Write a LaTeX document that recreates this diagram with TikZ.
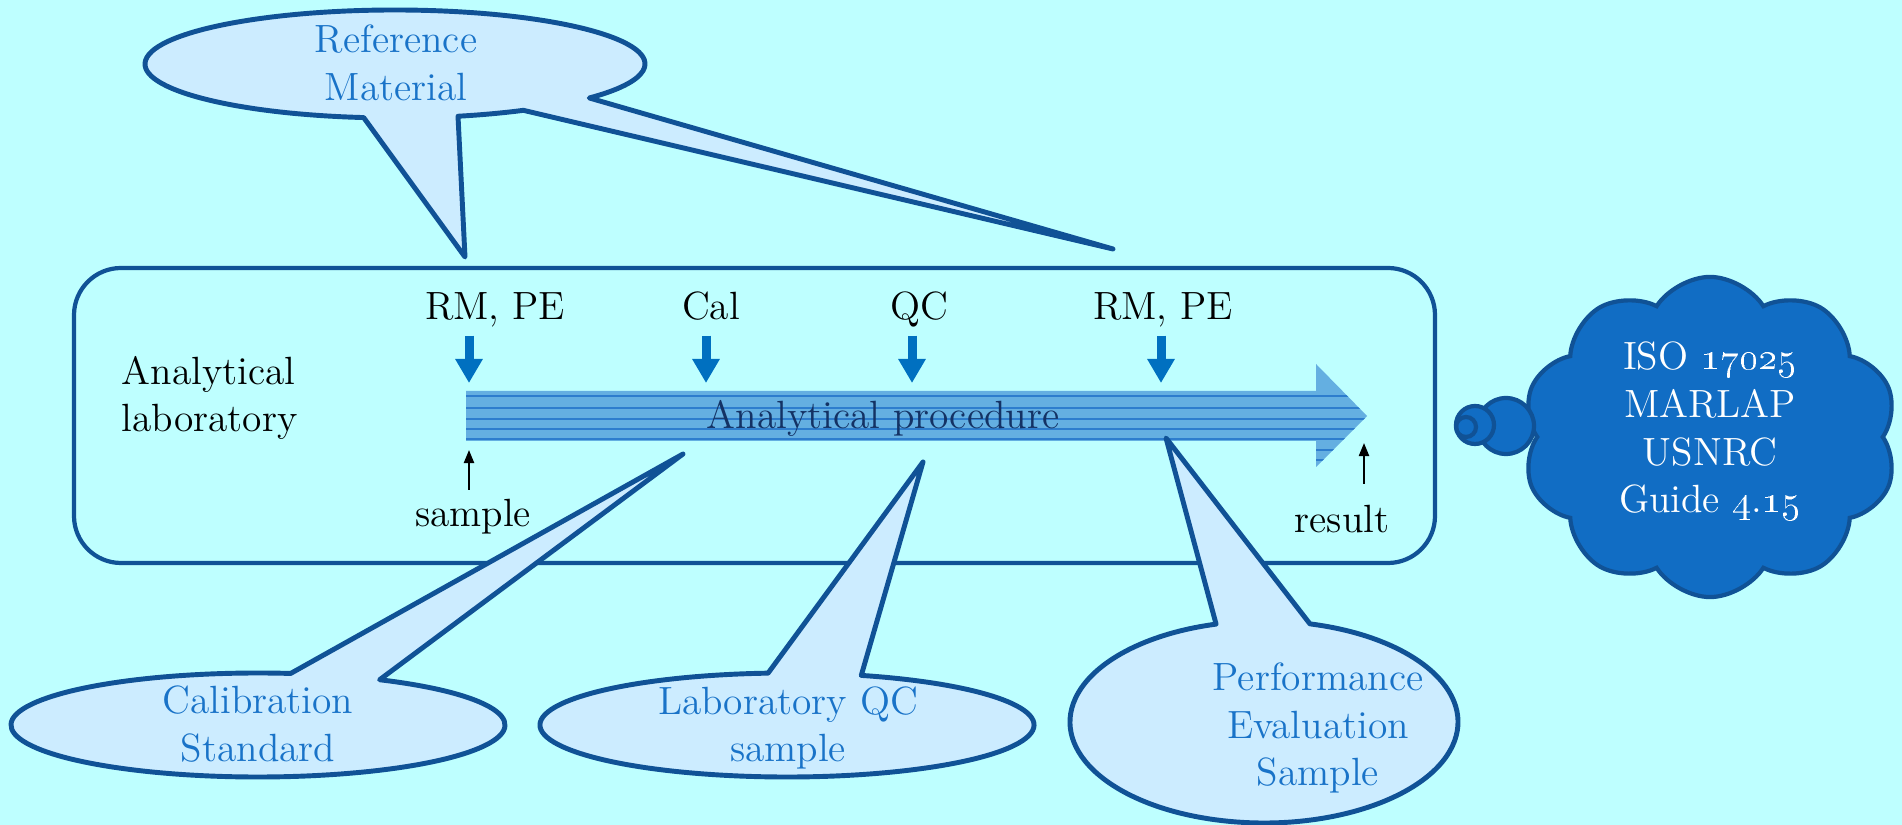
\documentclass[tikz,border=0pt]{standalone}
\usepackage{xcolor}
\usetikzlibrary{arrows.meta,shapes.symbols,calc}

\definecolor{bgcyan}{RGB}{190,255,255}
\definecolor{boxblue}{RGB}{16,82,150}
\definecolor{calloutfill}{RGB}{204,236,255}
\definecolor{callouttext}{RGB}{25,115,200}
\definecolor{markblue}{RGB}{0,112,192}
\definecolor{procfill}{RGB}{100,175,225}
\definecolor{procline}{RGB}{45,125,205}
\definecolor{proctext}{RGB}{20,50,100}
\definecolor{cloudfill}{RGB}{17,109,196}

\newcommand{\labfont}{\fontsize{11.2}{13.6}\selectfont}

\begin{document}
\begin{tikzpicture}[x=0.01cm, y=-0.01cm,
  txt/.style={font=\labfont, inner sep=0pt},
  inlabel/.style={txt, text depth=0pt, anchor=base},
  calloutbody/.style={draw=boxblue, fill=calloutfill, line width=1.4pt, line join=round},
  callouttxt/.style={txt, text=callouttext, align=center},
  inarrow/.style={markblue, line width=0.09cm, -{Triangle[width=0.26cm,length=0.24cm]}},
  ioarrow/.style={black, line width=0.6pt, -{Triangle[width=0.1cm,length=0.13cm]}}]
% Background
\fill[bgcyan] (0,0) rectangle (1902,825);
\useasboundingbox (0,0) rectangle (1902,825);

% Laboratory frame
\draw[boxblue, line width=1.2pt, rounded corners=0.47cm] (74,268) rectangle (1435,563);
\node[txt, anchor=west, align=left] (lab) at (121,398) {Analytical\\laboratory};

% Analytical procedure arrow
\begin{scope}
  \clip (466,391) -- (1316,391) -- (1316,364) -- (1367,416) -- (1316,467) -- (1316,441) -- (466,441) -- cycle;
  \fill[procfill] (460,360) rectangle (1370,470);
  \foreach \y in {396,408,419,429,439,450,460}
    \draw[procline, line width=0.4pt] (460,\y) -- (1370,\y);
\end{scope}
\node[txt, anchor=base, text=proctext] (proc) at (883,429) {Analytical procedure};

% Inputs to the procedure
\node[inlabel] (rmpe1) at (495,320) {RM, PE};
\node[inlabel] (cal) at (711,320) {Cal};
\node[inlabel] (qc) at (919,320) {QC};
\node[inlabel] (rmpe2) at (1163,320) {RM, PE};
\coordinate (in1) at (469,383);
\coordinate (in2) at (706,383);
\coordinate (in3) at (912,383);
\coordinate (in4) at (1161,383);
\draw[inarrow] (rmpe1.south -| in1) ++(0,15) -- (in1);
\draw[inarrow] (cal.south -| in2) ++(0,15) -- (in2);
\draw[inarrow] (qc.south -| in3) ++(0,15) -- (in3);
\draw[inarrow] (rmpe2.south -| in4) ++(0,15) -- (in4);

% Sample and result
\node[txt, anchor=base] (sample) at (473,527) {sample};
\node[txt, anchor=base] (result) at (1342,533) {result};
\coordinate (smptip) at (469,450);
\coordinate (restip) at (1364,443);
\draw[ioarrow] (sample.north -| smptip) ++(0,-9) -- (smptip);
\draw[ioarrow] (result.north -| restip) ++(0,-21) -- (restip);

% Standards cloud
\node[cloud, cloud puffs=10, cloud puff arc=115, aspect=1.2, draw=boxblue, fill=cloudfill,
  line width=1.2pt, minimum width=3.75cm, minimum height=3.2cm] (std) at (1710,437) {};
\filldraw[fill=cloudfill, draw=boxblue, line width=1.2pt] (1506,426) circle[radius=28];
\filldraw[fill=cloudfill, draw=boxblue, line width=1.2pt] (1475,425) circle[radius=19];
\draw[boxblue, line width=1.2pt] (1466,427) circle[radius=10];
\node[txt, text=white, align=center] (stdtxt) at (1710,431)
  {ISO \oldstylenums{17025}\\MARLAP\\USNRC\\Guide \oldstylenums{4}.\oldstylenums{15}};

% Reference material callout
\coordinate (rmc) at (395,64);
\coordinate (rmtipA) at (465,257);
\coordinate (rmtipB) at (1113,249);
\draw[calloutbody] (rmc) ++(97.2:250 and 54)
  arc[start angle=97.2, end angle=399, x radius=250, y radius=54] -- (rmtipB)
  -- ($(rmc)+(59.1:250 and 54)$)
  arc[start angle=59.1, end angle=75.4, x radius=250, y radius=54] -- (rmtipA) -- cycle;
\node[callouttxt] (refmat) at (396,63) {Reference\\Material};

% Calibration standard callout
\coordinate (caltip) at (683,454);
\draw[calloutbody] (258,725) ++(-60.5:247 and 52)
  arc[start angle=-60.5, end angle=277.6, x radius=247, y radius=52] -- (caltip) -- cycle;
\node[callouttxt] (calstd) at (258,724) {Calibration\\Standard};

% Laboratory QC callout
\coordinate (qctip) at (923,462);
\draw[calloutbody] (787,725) ++(-72.5:247 and 52)
  arc[start angle=-72.5, end angle=265.6, x radius=247, y radius=52] -- (qctip) -- cycle;
\node[callouttxt] (qcsmp) at (788,728) {Laboratory QC\\sample};

% Performance evaluation callout
\coordinate (petip) at (1166,438);
\draw[calloutbody] (1264,722) ++(-76.3:194 and 101)
  arc[start angle=-76.3, end angle=255.7, x radius=194, y radius=101] -- (petip) -- cycle;
\node[callouttxt] (pesmp) at (1318,728) {Performance\\Evaluation\\Sample};
\end{tikzpicture}
\end{document}
